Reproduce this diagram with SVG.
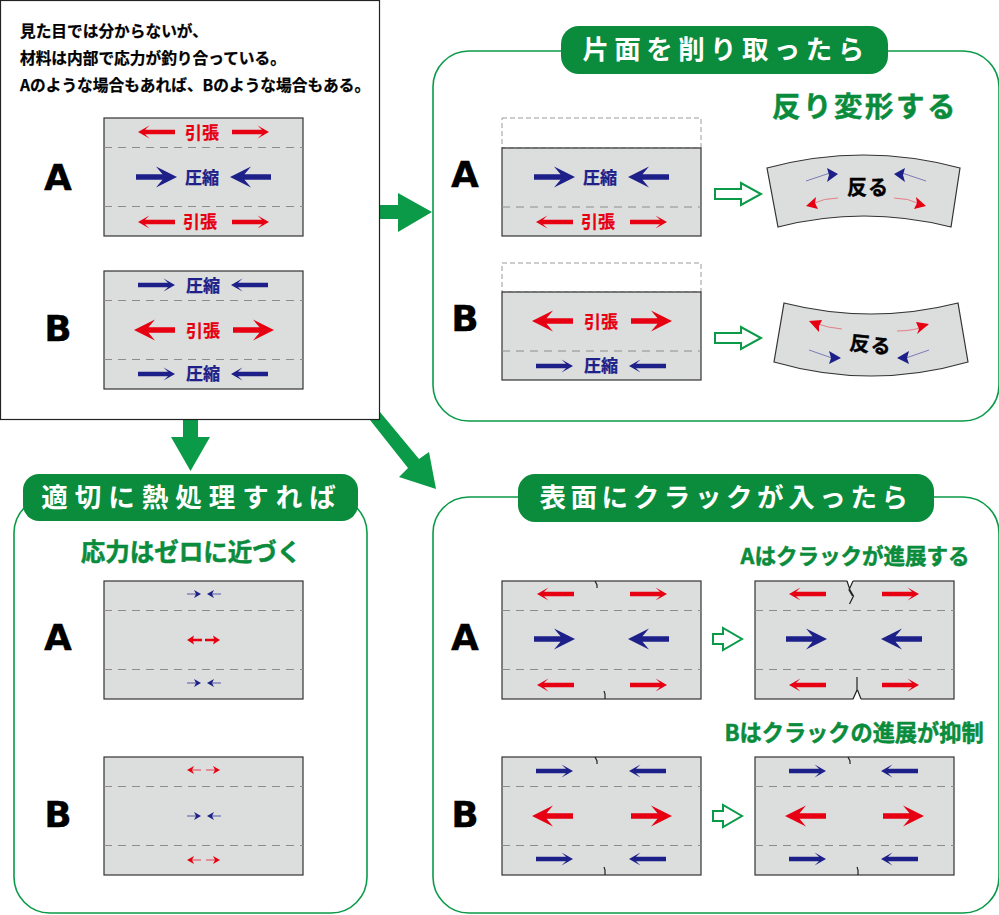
<svg xmlns="http://www.w3.org/2000/svg" width="999" height="915" viewBox="0 0 999 915">
<style>
text{font-family:"Noto Sans CJK JP","Noto Sans",sans-serif;font-weight:700}
.big{font-family:"DejaVu Sans","Noto Sans CJK JP",sans-serif;font-weight:700;font-size:36px;fill:#000;text-anchor:middle;stroke:#000;stroke-width:.3}
.body{font-size:15.700px;fill:#000;stroke:#000;stroke-width:.25}
.sub{font-size:24.500px;fill:#0a8c3c;text-anchor:middle;stroke:#0a8c3c;stroke-width:.5}
.pill{font-size:26.500px;fill:#fff;text-anchor:middle}
.r{fill:#e60012}.b{fill:#1d2088}
.lr{font-size:17px;fill:#e60012;text-anchor:middle;stroke:#e60012;stroke-width:.25}
.lb{font-size:17px;fill:#1d2088;text-anchor:middle;stroke:#1d2088;stroke-width:.25}
.frame{fill:#fff;stroke:#0a9a48;stroke-width:1.600}
.pl{fill:#0a8c3c}
.panel{fill:#dcdddd;stroke:#333;stroke-width:1.200}
.dash{stroke:#8c8c8c;stroke-width:1;stroke-dasharray:8 6;fill:none}
.dbox{fill:#fff;stroke:#9a9a9a;stroke-width:1;stroke-dasharray:5 3}
.oa{fill:#fff;stroke:#0a9a48;stroke-width:2}
.ln{fill:none;stroke-width:.9}
.tick{fill:none;stroke:#222;stroke-width:1.200}
.bend{font-size:20px;fill:#000;text-anchor:middle;stroke:#000;stroke-width:.4}
</style>
<defs>
<path id="B" d="M-41-2.800H-14.500L-21-10.500L0 0L-21 10.500L-14.500 2.800H-41Z"/>
<path id="S" d="M-37-2.300H-7L-11.500-6.500L0 0L-11.500 6.500L-7 2.300H-37Z"/>
<g id="T"><path d="M-14-.7H-5V.7H-14Z" opacity=".5"/><path d="M0 0L-7-4L-5 0L-7 4Z"/></g>
<path id="T2" d="M-15-1.200H-6L-7-4.500L0 0L-7 4.500L-6 1.200H-15Z"/>
<g id="P"><rect class="panel" x="0" y="0" width="199" height="118"/><path class="dash" d="M0 29.500H199M0 88.500H199"/></g>
<path id="O" class="oa" d="M0-5H26V-11L46 0L26 11V5H0Z"/>
<path id="O2" class="oa" d="M0-5H10V-11L29 0L10 11V5H0Z"/>
</defs>

<g id="cut-panel">
<rect class="frame" x="433" y="51" width="566" height="370" rx="36"/>
<rect class="pl" x="561" y="26" width="327" height="48" rx="18"/>
<text class="pill" x="726" y="59" letter-spacing="5.400">片面を削り取ったら</text>
<text class="sub" x="865" y="117" style="font-size:28.500px" letter-spacing="2.500">反り変形する</text>
<text class="big" x="465" y="187">A</text>
<text class="big" x="465" y="331">B</text>
<rect class="dbox" x="502" y="118" width="199" height="30"/>
<rect class="panel" x="502" y="148" width="199" height="88"/><path class="dash" d="M502 207H701"/>
<g class="b"><use href="#B" transform="translate(575,177)"/><use href="#B" transform="translate(628,177) scale(-1,1)"/></g>
<g class="r"><use href="#S" transform="translate(536,222) scale(-1,1)"/><use href="#S" transform="translate(667,222)"/></g>
<text class="lb" x="600" y="184">圧縮</text><text class="lr" x="598" y="228">引張</text>
<rect class="dbox" x="502" y="263" width="199" height="29"/>
<rect class="panel" x="502" y="292" width="199" height="88"/><path class="dash" d="M502 351H701"/>
<g class="r"><use href="#B" transform="translate(532,321) scale(-1,1)"/><use href="#B" transform="translate(672,321)"/></g>
<g class="b"><use href="#S" transform="translate(573,366)"/><use href="#S" transform="translate(629,366) scale(-1,1)"/></g>
<text class="lr" x="601" y="328">引張</text><text class="lb" x="601" y="372">圧縮</text>
<use href="#O" x="715" y="194"/>
<use href="#O" x="715" y="338"/>
<g id="bend-a">
<path class="panel" d="M767 168Q863.500 142 960 168L951 227Q863.500 205 778 227Z"/>
<path class="ln" stroke="#6f70b0" d="M806 181L830 173M926 181L902 173"/><path class="ln" stroke="#e8707a" d="M838 198Q824 198 812 204M894 198Q908 198 920 204"/>
<path class="b" d="M838 174L827 168L829 175L827 182ZM894 174L905 168L903 175L905 182Z"/>
<path class="r" d="M806 206L816 197L815 203L818 209ZM926 206L916 197L917 203L914 209Z"/>
<text class="bend" x="868" y="195" letter-spacing="1">反る</text>
</g>
<g id="bend-b">
<path class="panel" d="M784 303Q871 325 958 303L968 362Q871 390 774 362Z"/>
<path class="ln" stroke="#e8707a" d="M842 329Q828 328 815 323M897 331Q915 331 928 325"/><path class="ln" stroke="#6f70b0" d="M809 350L832 358M929 350L906 358"/>
<path class="r" d="M809 321L822 320L819 326L819 332ZM929 324L916 322L919 329L917 334Z"/>
<path class="b" d="M841 358L829 351L831 358L829 364ZM897 358L909 351L907 358L909 364Z"/>
<text class="bend" x="0" y="0" letter-spacing="1" transform="translate(870,352) rotate(6)">反る</text>
</g>
</g>

<g id="heat-panel">
<rect class="frame" x="14" y="497" width="353" height="416" rx="36"/>
<rect class="pl" x="23" y="474" width="335" height="47" rx="16"/>
<text class="pill" x="192" y="507" letter-spacing="7">適切に熱処理すれば</text>
<text class="sub" x="191" y="561">応力はゼロに近づく</text>
<text class="big" x="58" y="650">A</text>
<text class="big" x="58" y="827">B</text>
<use href="#P" x="104" y="581"/>
<g class="b"><use href="#T" transform="translate(201,594)"/><use href="#T" transform="translate(207,594) scale(-1,1)"/><use href="#T" transform="translate(201,683)"/><use href="#T" transform="translate(207,683) scale(-1,1)"/></g>
<g class="r"><use href="#T2" transform="translate(187,640) scale(-1,1)"/><use href="#T2" transform="translate(220,640)"/></g>
<use href="#P" x="104" y="757"/>
<g class="r"><use href="#T" transform="translate(187,770) scale(-1,1)"/><use href="#T" transform="translate(220,770)"/><use href="#T" transform="translate(187,860) scale(-1,1)"/><use href="#T" transform="translate(220,860)"/></g>
<g class="b"><use href="#T" transform="translate(201,816)"/><use href="#T" transform="translate(207,816) scale(-1,1)"/></g>
</g>

<g id="crack-panel">
<rect class="frame" x="433" y="497" width="566" height="416" rx="36"/>
<rect class="pl" x="518" y="474" width="416" height="48" rx="17"/>
<text class="pill" x="726" y="507" letter-spacing="4.600">表面にクラックが入ったら</text>
<text class="sub" x="855" y="564" style="font-size:21.500px">Aはクラックが進展する</text>
<text class="sub" x="854" y="741" style="font-size:22.200px">Bはクラックの進展が抑制</text>
<text class="big" x="465" y="650">A</text>
<text class="big" x="465" y="827">B</text>
<g id="ca1"><use href="#P" x="502" y="581"/>
<path class="tick" d="M595 581L597 585L597 588M605 699L605 694L604 691"/>
<g class="r"><use href="#S" transform="translate(537,594) scale(-1,1)"/><use href="#S" transform="translate(667,594)"/><use href="#S" transform="translate(537,685) scale(-1,1)"/><use href="#S" transform="translate(667,685)"/></g>
<g class="b"><use href="#B" transform="translate(575,639)"/><use href="#B" transform="translate(628,639) scale(-1,1)"/></g></g>
<use href="#O2" x="713" y="639"/>
<g id="ca2"><use href="#P" x="755" y="581"/>
<path fill="#fff" d="M847 580H853V581.800L850 590Z"/><path class="tick" d="M847 581L850 590L853.500 596L849.500 604M853 581L849 590L852.500 596"/>
<path fill="#fff" d="M853 700H861V698.500L857.500 690L854 698.500Z"/><path class="tick" d="M853 699L857 690L857 677M861 699L857.500 690"/>
<g class="r"><use href="#S" transform="translate(789,594) scale(-1,1)"/><use href="#S" transform="translate(919,594)"/><use href="#S" transform="translate(789,685) scale(-1,1)"/><use href="#S" transform="translate(919,685)"/></g>
<g class="b"><use href="#B" transform="translate(827,639)"/><use href="#B" transform="translate(881,639) scale(-1,1)"/></g></g>
<g id="cb1"><use href="#P" x="502" y="757"/>
<path class="tick" d="M595 757L597 761L597 764M605 875L605 870L604 867"/>
<g class="b"><use href="#S" transform="translate(573,771)"/><use href="#S" transform="translate(629,771) scale(-1,1)"/><use href="#S" transform="translate(573,859)"/><use href="#S" transform="translate(629,859) scale(-1,1)"/></g>
<g class="r"><use href="#B" transform="translate(532,816) scale(-1,1)"/><use href="#B" transform="translate(672,816)"/></g></g>
<use href="#O2" x="713" y="816"/>
<g id="cb2"><use href="#P" x="755" y="757"/>
<path class="tick" d="M848 757L850 761L850 764M858 875L858 870L857 867"/>
<g class="b"><use href="#S" transform="translate(826,771)"/><use href="#S" transform="translate(881,771) scale(-1,1)"/><use href="#S" transform="translate(826,859)"/><use href="#S" transform="translate(881,859) scale(-1,1)"/></g>
<g class="r"><use href="#B" transform="translate(785,816) scale(-1,1)"/><use href="#B" transform="translate(924,816)"/></g></g>
</g>

<g id="connectors">
<path fill="#0a9a48" d="M380 205H398V193L432 212L398 232V219H380Z"/>
<path fill="#0a9a48" d="M183 420H198V437H210L190.500 471L171 437H183Z"/>
<path fill="#0a9a48" d="M370 420L380 412L419 459L429 452L436 489L399 477L408 468Z"/>
</g>

<g id="intro">
<rect x=".5" y=".5" width="379" height="419" fill="#fff" stroke="#222" stroke-width="1.200"/>
<text class="body" x="20" y="37">見た目では分からないが、</text>
<text class="body" x="20" y="64">材料は内部で応力が釣り合っている。</text>
<text class="body" x="20" y="91">Aのような場合もあれば、Bのような場合もある。</text>
<text class="big" x="58" y="190">A</text>
<text class="big" x="58" y="341">B</text>
<use href="#P" x="104" y="118"/>
<g class="r"><use href="#S" transform="translate(138,132) scale(-1,1)"/><use href="#S" transform="translate(269,132)"/><use href="#S" transform="translate(138,222) scale(-1,1)"/><use href="#S" transform="translate(269,222)"/></g>
<g class="b"><use href="#B" transform="translate(177,177)"/><use href="#B" transform="translate(230,177) scale(-1,1)"/></g>
<text class="lr" x="202" y="139">引張</text><text class="lb" x="202" y="184">圧縮</text><text class="lr" x="200" y="228">引張</text>
<use href="#P" x="104" y="271"/>
<g class="b"><use href="#S" transform="translate(175,285)"/><use href="#S" transform="translate(231,285) scale(-1,1)"/><use href="#S" transform="translate(175,374)"/><use href="#S" transform="translate(231,374) scale(-1,1)"/></g>
<g class="r"><use href="#B" transform="translate(134,330) scale(-1,1)"/><use href="#B" transform="translate(274,330)"/></g>
<text class="lb" x="203" y="292">圧縮</text><text class="lr" x="203" y="337">引張</text><text class="lb" x="203" y="380">圧縮</text>
</g>
</svg>
